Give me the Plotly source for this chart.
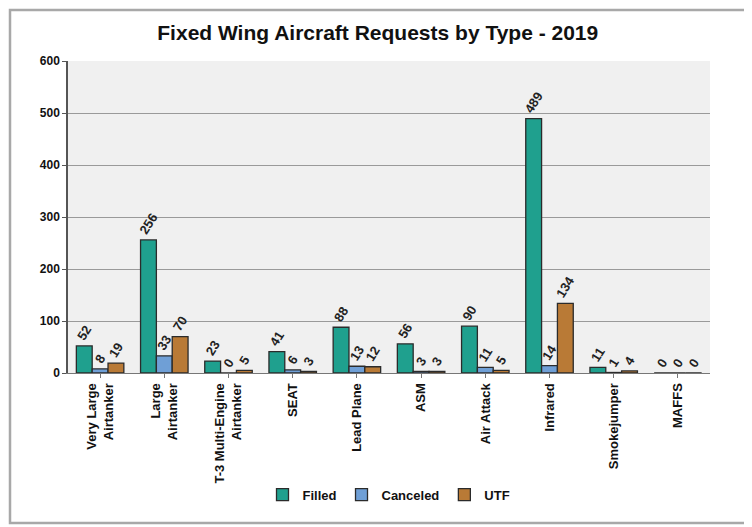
import plotly.graph_objects as go

# categories and values
categories = ["Very Large<br>Airtanker", "Large<br>Airtanker", "T-3 Multi-Engine<br>Airtanker",
              "SEAT", "Lead Plane", "ASM", "Air Attack", "Infrared", "Smokejumper", "MAFFS"]
filled = [52, 256, 23, 41, 88, 56, 90, 489, 11, 0]
canceled = [8, 33, 0, 6, 13, 3, 11, 14, 1, 0]
utf = [19, 70, 5, 3, 12, 3, 5, 134, 4, 0]

series = [("Filled", filled, "#1fa08e"),
          ("Canceled", canceled, "#6f9fd6"),
          ("UTF", utf, "#b97a36")]

fig = go.Figure()
for name, vals, col in series:
    fig.add_trace(go.Bar(
        x=categories, y=vals, name="<b>" + name + "</b>",
        marker=dict(color=col, line=dict(color="#2b2b2b", width=1.3)),
        text=["<b>%d</b>" % v for v in vals], textposition="outside", textangle=-58,
        constraintext="none", cliponaxis=False,
        textfont=dict(family="Liberation Sans, Arial", size=13, color="#222222"),
    ))

# page body adds an 8px margin, so the figure is 8px smaller than the window
fig.update_layout(
    width=744, height=519,
    barmode="group", bargap=0.26, bargroupgap=0,
    paper_bgcolor="white", plot_bgcolor="#f0f0f0",
    font=dict(family="Liberation Sans, Arial", color="#111111"),
    title=dict(text="<b>Fixed Wing Aircraft Requests by Type - 2019</b>",
               x=0.497, xanchor="center", y=0.953, yanchor="middle",
               font=dict(size=21, color="#111111")),
    margin=dict(l=60, r=42, t=53, b=154),
    showlegend=True,
    legend=dict(orientation="h", x=0.5, xanchor="center", y=-0.39, yanchor="middle",
                font=dict(size=13), itemwidth=30, tracegroupgap=0),
    xaxis=dict(tickangle=-90, tickfont=dict(size=13), showline=True, linecolor="#777777",
               ticks="outside", ticklen=4, tickcolor="#777777"),
    yaxis=dict(range=[0, 600], dtick=100, tickfont=dict(size=12),
               tickprefix="<b>", ticksuffix="</b>",
               showgrid=True, gridcolor="#9a9a9a", gridwidth=1,
               showline=True, linecolor="#555555", linewidth=1.5,
               ticks="outside", ticklen=4, tickcolor="#555555", zeroline=False),
)
fig.update_xaxes(ticktext=["<b>" + c + "</b>" for c in categories], tickvals=categories)

# outer chart frame
fig.add_shape(type="rect", xref="paper", yref="paper",
              x0=-58 / 642, x1=680 / 642, y0=-150 / 312, y1=363 / 312,
              line=dict(color="#a8a8a8", width=2.5), fillcolor="rgba(0,0,0,0)", layer="below")

fig.write_html("out.html")
